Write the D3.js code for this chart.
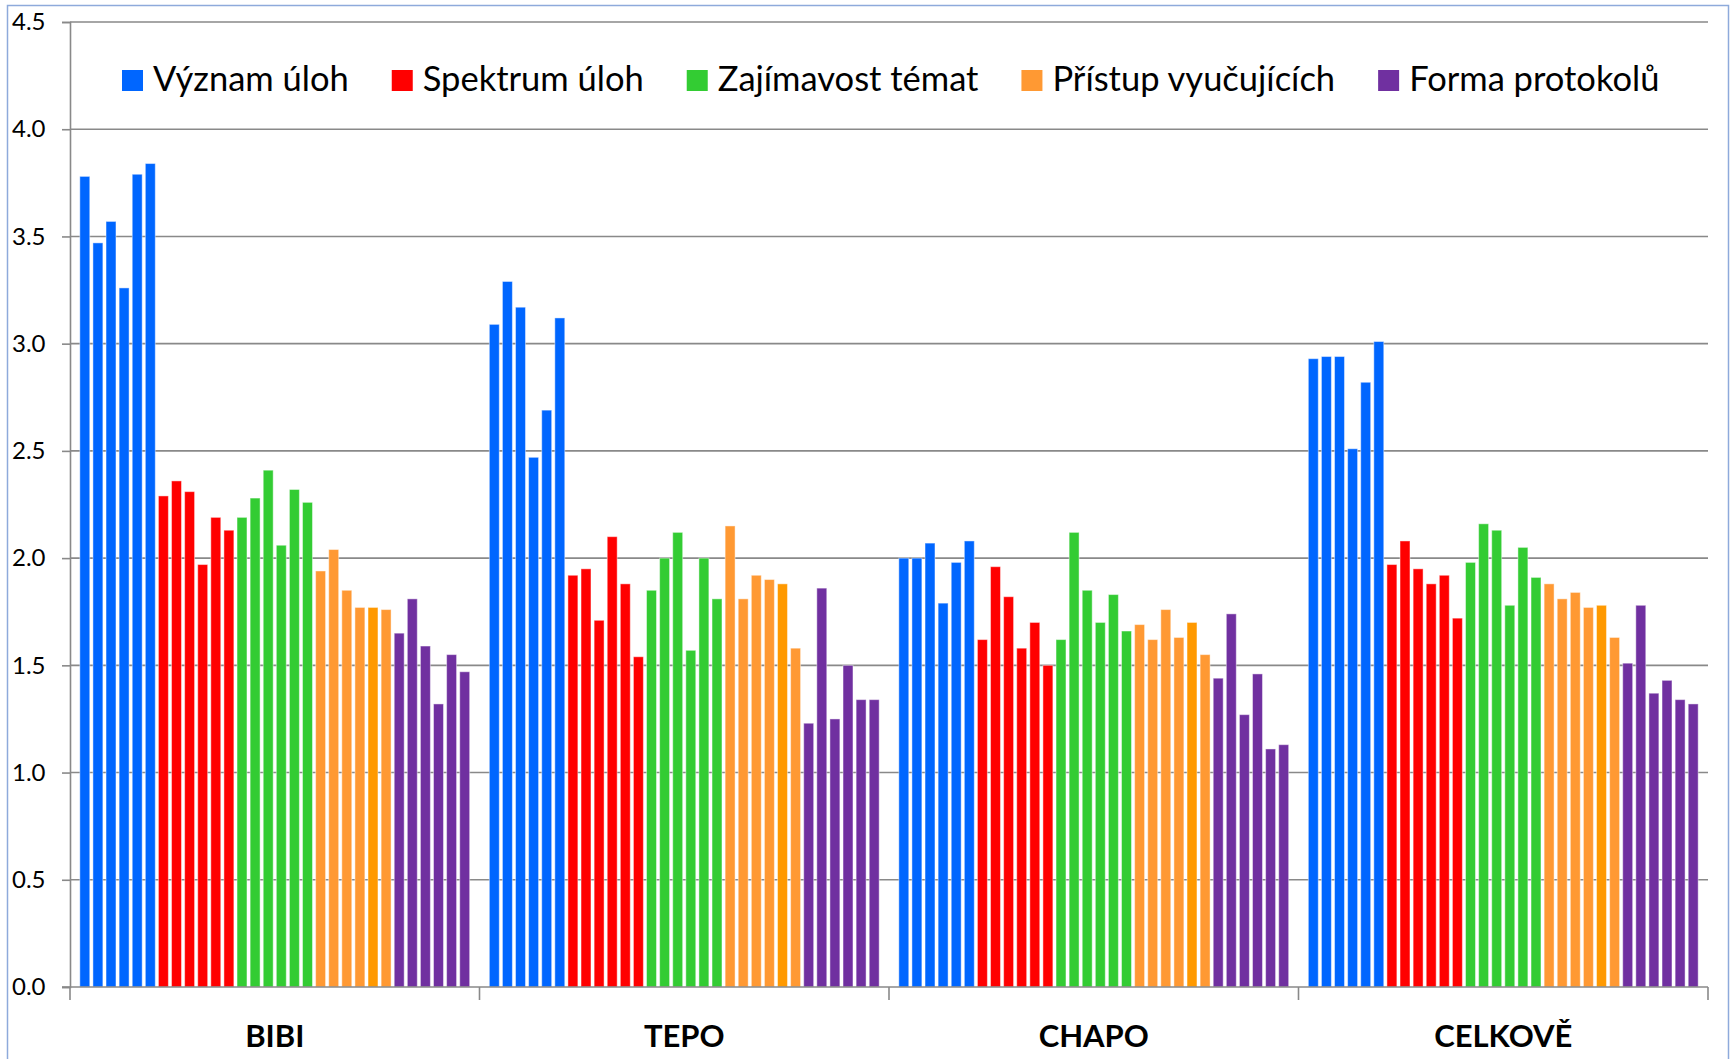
<!DOCTYPE html>
<html>
<head>
<meta charset="utf-8">
<script src="https://cdn.jsdelivr.net/npm/d3@7"></script>
<style>
  html, body { margin: 0; padding: 0; background: #fff; }
  svg { display: block; }
  text { font-family: Lato, "Open Sans", sans-serif; fill: #000; }
</style>
</head>
<body>
<svg id="chart" width="1732" height="1059"></svg>
<script>
// ---- data ----
const categories = ["BIBI", "TEPO", "CHAPO", "CELKOVĚ"];
const seriesNames = ["Význam úloh", "Spektrum úloh", "Zajímavost témat", "Přístup vyučujících", "Forma protokolů"];
const yTicks = [0, 0.5, 1, 1.5, 2, 2.5, 3, 3.5, 4, 4.5];

// six values per category (BIBI, TEPO, CHAPO, CELKOVĚ)
const vyznamUloh = [
  [3.78, 3.47, 3.57, 3.26, 3.79, 3.84],
  [3.09, 3.29, 3.17, 2.47, 2.69, 3.12],
  [2.00, 2.00, 2.07, 1.79, 1.98, 2.08],
  [2.93, 2.94, 2.94, 2.51, 2.82, 3.01]
];
const spektrumUloh = [
  [2.29, 2.36, 2.31, 1.97, 2.19, 2.13],
  [1.92, 1.95, 1.71, 2.10, 1.88, 1.54],
  [1.62, 1.96, 1.82, 1.58, 1.70, 1.50],
  [1.97, 2.08, 1.95, 1.88, 1.92, 1.72]
];
const zajimavostTemat = [
  [2.19, 2.28, 2.41, 2.06, 2.32, 2.26],
  [1.85, 2.00, 2.12, 1.57, 2.00, 1.81],
  [1.62, 2.12, 1.85, 1.70, 1.83, 1.66],
  [1.98, 2.16, 2.13, 1.78, 2.05, 1.91]
];
const pristupVyucujicich = [
  [1.94, 2.04, 1.85, 1.77, 1.77, 1.76],
  [2.15, 1.81, 1.92, 1.90, 1.88, 1.58],
  [1.69, 1.62, 1.76, 1.63, 1.70, 1.55],
  [1.88, 1.81, 1.84, 1.77, 1.78, 1.63]
];
const formaProtokolu = [
  [1.65, 1.81, 1.59, 1.32, 1.55, 1.47],
  [1.23, 1.86, 1.25, 1.50, 1.34, 1.34],
  [1.44, 1.74, 1.27, 1.46, 1.11, 1.13],
  [1.51, 1.78, 1.37, 1.43, 1.34, 1.32]
];
const seriesValues = [vyznamUloh, spektrumUloh, zajimavostTemat, pristupVyucujicich, formaProtokolu];

// ---- styles ----
const seriesColors = ["#0066FF", "#FF0000", "#33CC33", "#FF9933", "#7030A0"];
const accentOrange = "#FF9900";

// ---- build ----
const svg = d3.select("#chart");
const plot = { left: 70, right: 1708, top: 22, bottom: 987 };

// outer frame
svg.append("rect")
  .attr("x", 7.5).attr("y", 5.5)
  .attr("width", 1721).attr("height", 1080)
  .attr("fill", "#fff")
  .attr("stroke", "#8eaadb").attr("stroke-width", 1.5);

const y = d3.scaleLinear().domain([0, 4.5]).range([plot.bottom, plot.top]);
const x0 = d3.scaleBand().domain(categories).range([plot.left, plot.right]).padding(0);
const barIdx = d3.range(seriesNames.length * 6);
const x1 = d3.scaleBand().domain(barIdx).range([0, x0.bandwidth()])
  .paddingInner(0.24).paddingOuter(0.75);

// gridlines
svg.append("g")
  .selectAll("line")
  .data(yTicks.filter(t => t > 0))
  .join("line")
  .attr("x1", plot.left).attr("x2", plot.right)
  .attr("y1", d => y(d)).attr("y2", d => y(d))
  .attr("stroke", "#898989").attr("stroke-width", 1.6);

// y axis
const yAxis = svg.append("g")
  .attr("transform", `translate(${plot.left},0)`)
  .call(d3.axisLeft(y).tickValues(yTicks).tickFormat(d3.format(".1f")).tickSize(8).tickPadding(18));
yAxis.select(".domain").attr("stroke", "#898989").attr("stroke-width", 1.6);
yAxis.selectAll(".tick line").attr("stroke", "#898989").attr("stroke-width", 1.6);
yAxis.selectAll(".tick text")
  .attr("font-family", "Lato, 'Open Sans', sans-serif")
  .attr("font-size", 24)
  .attr("fill", "#000")
  .attr("text-anchor", "start")
  .attr("x", 12 - plot.left);

// bars
const flat = [];
categories.forEach((c, ci) => {
  seriesValues.forEach((sv, si) => {
    sv[ci].forEach((v, k) => {
      flat.push({ cat: c, s: si, k: k, idx: si * 6 + k, value: v });
    });
  });
});
svg.append("g")
  .selectAll("rect")
  .data(flat)
  .join("rect")
  .attr("x", d => x0(d.cat) + x1(d.idx))
  .attr("width", x1.bandwidth())
  .attr("y", d => y(d.value))
  .attr("height", d => y(0) - y(d.value))
  .attr("fill", d => (d.s === 3 && d.k === 4) ? accentOrange : seriesColors[d.s])
  .attr("stroke", "#fff").attr("stroke-opacity", 0.45).attr("stroke-width", 1);

// x axis line and boundary ticks
const xg = svg.append("g");
xg.append("line")
  .attr("x1", plot.left - 8).attr("x2", plot.right)
  .attr("y1", y(0)).attr("y2", y(0))
  .attr("stroke", "#898989").attr("stroke-width", 1.6);
const bounds = categories.map(c => x0(c)).concat([x0.range()[1]]);
xg.selectAll("line.tk")
  .data(bounds)
  .join("line")
  .attr("class", "tk")
  .attr("x1", d => d).attr("x2", d => d)
  .attr("y1", y(0)).attr("y2", y(0) + 13)
  .attr("stroke", "#898989").attr("stroke-width", 1.6);
xg.selectAll("text.cat")
  .data(categories)
  .join("text")
  .attr("class", "cat")
  .attr("x", d => x0(d) + x0.bandwidth() / 2)
  .attr("y", 1047)
  .attr("text-anchor", "middle")
  .attr("font-size", 31)
  .attr("font-weight", "bold")
  .text(d => d);

// legend
const legend = svg.append("g");
let lx = 122;
seriesNames.forEach((name, i) => {
  legend.append("rect")
    .attr("x", lx).attr("y", 70)
    .attr("width", 21).attr("height", 21)
    .attr("fill", seriesColors[i]);
  const t = legend.append("text")
    .attr("x", lx + 31).attr("y", 91)
    .attr("font-size", 34.5)
    .text(name);
  const w = t.node().getComputedTextLength();
  lx += 31 + w + 43;
});
</script>
</body>
</html>
